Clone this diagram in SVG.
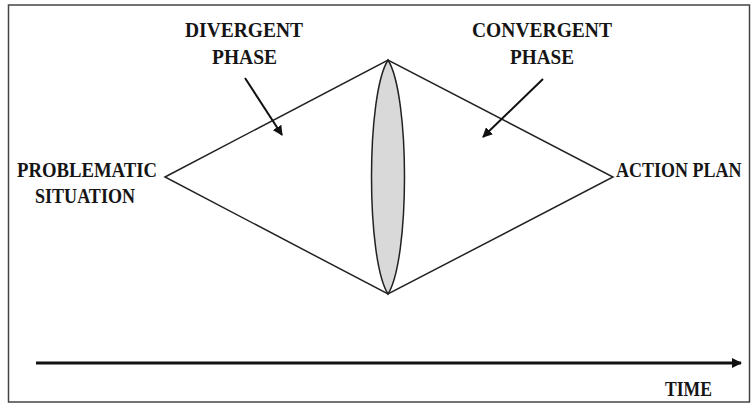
<svg xmlns="http://www.w3.org/2000/svg" width="751" height="404" viewBox="0 0 751 404">
<style>
  text { font-family: "Liberation Serif", "Times New Roman", serif; font-weight: bold; font-size: 21px; fill: #151515; }
  .line { stroke: #222; stroke-width: 1.5; fill: none; }
  .ptr { stroke: #111; stroke-width: 2; fill: none; }
</style>
<defs>
  <marker id="ah" viewBox="0 0 10 10" refX="9" refY="5" markerWidth="5" markerHeight="5" markerUnits="strokeWidth" orient="auto">
    <path d="M0,0 L10,5 L0,10 Z" fill="#111"/>
  </marker>
  <marker id="ahT" viewBox="0 0 10 10" refX="9" refY="5" markerWidth="3.4" markerHeight="3.4" markerUnits="strokeWidth" orient="auto">
    <path d="M0,0 L10,5 L0,10 Z" fill="#111"/>
  </marker>
</defs>
<rect x="8.5" y="5" width="741" height="397" fill="#fff" stroke="#444" stroke-width="1.5"/>
<g id="diamond">
  <path class="line" d="M165,177 L388,60 L613,177 L388,294 Z"/>
</g>
<g id="lens">
  <path d="M388,60 C366,95 366,259 388,294 C410,259 410,95 388,60 Z" fill="#d9d9d9" stroke="#222" stroke-width="1.5"/>
</g>
<g id="connectors">
  <line class="ptr" x1="245" y1="78" x2="282" y2="135" marker-end="url(#ah)"/>
  <line class="ptr" x1="543" y1="79" x2="483" y2="137" marker-end="url(#ah)"/>
  <line x1="36" y1="363" x2="741" y2="363" stroke="#111" stroke-width="3" marker-end="url(#ahT)"/>
</g>
<g id="divergent">
  <text x="185" y="37" textLength="118" lengthAdjust="spacingAndGlyphs">DIVERGENT</text>
  <text x="212" y="64" textLength="65" lengthAdjust="spacingAndGlyphs">PHASE</text>
</g>
<g id="convergent">
  <text x="472" y="37" textLength="140" lengthAdjust="spacingAndGlyphs">CONVERGENT</text>
  <text x="510" y="64" textLength="64" lengthAdjust="spacingAndGlyphs">PHASE</text>
</g>
<g id="problematic">
  <text x="17" y="177" textLength="140" lengthAdjust="spacingAndGlyphs">PROBLEMATIC</text>
  <text x="35" y="203" textLength="100" lengthAdjust="spacingAndGlyphs">SITUATION</text>
</g>
<g id="action">
  <text transform="translate(616,177) scale(1,1.15)" x="0" y="0" font-size="18" style="font-size:18px">ACTION PLAN</text>
</g>
<g id="time">
  <text x="665" y="396" textLength="47" lengthAdjust="spacingAndGlyphs">TIME</text>
</g>
</svg>
